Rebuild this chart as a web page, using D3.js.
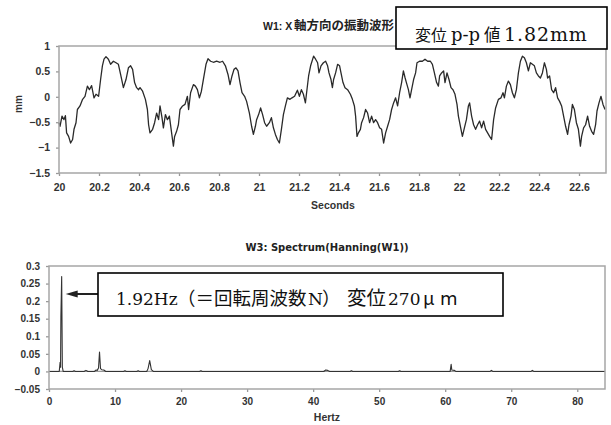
<!DOCTYPE html>
<html>
<head>
<meta charset="utf-8">
<script src="https://cdn.jsdelivr.net/npm/d3@7"></script>
<style>
  body { margin: 0; background: #fff; }
</style>
</head>
<body>
<svg id="chart" width="611" height="425"></svg>
<script>
// W1: X-axis vibration waveform (time in seconds, displacement in mm)
const waveSeconds = [
  20.000, 20.005, 20.015, 20.025, 20.032, 20.038, 20.048, 20.058, 20.068, 20.075,
  20.085, 20.092, 20.105, 20.118, 20.130, 20.142, 20.152, 20.163, 20.175, 20.185,
  20.198, 20.208, 20.217, 20.225, 20.235, 20.247, 20.258, 20.272, 20.285, 20.297,
  20.308, 20.322, 20.335, 20.347, 20.358, 20.368, 20.378, 20.388, 20.398, 20.405,
  20.418, 20.432, 20.442, 20.448, 20.455, 20.468, 20.478, 20.488, 20.498, 20.505,
  20.515, 20.522, 20.532, 20.542, 20.552, 20.562, 20.572, 20.578, 20.588, 20.597,
  20.605, 20.618, 20.630, 20.642, 20.648, 20.658, 20.672, 20.682, 20.692, 20.702,
  20.712, 20.725, 20.735, 20.745, 20.758, 20.772, 20.788, 20.805, 20.818, 20.832,
  20.845, 20.855, 20.865, 20.875, 20.885, 20.895, 20.905, 20.915, 20.928, 20.938,
  20.952, 20.963, 20.972, 20.982, 20.988, 20.998, 21.008, 21.018, 21.028, 21.038,
  21.052, 21.062, 21.072, 21.082, 21.092, 21.102, 21.112, 21.122, 21.132, 21.142,
  21.155, 21.165, 21.178, 21.192, 21.202, 21.212, 21.222, 21.232, 21.238, 21.248,
  21.258, 21.273, 21.283, 21.293, 21.300, 21.310, 21.322, 21.333, 21.343, 21.350,
  21.360, 21.367, 21.373, 21.383, 21.393, 21.403, 21.410, 21.420, 21.430, 21.443,
  21.457, 21.467, 21.477, 21.483, 21.490, 21.497, 21.507, 21.513, 21.523, 21.533,
  21.543, 21.553, 21.563, 21.573, 21.583, 21.593, 21.603, 21.613, 21.623, 21.633,
  21.643, 21.653, 21.663, 21.673, 21.683, 21.693, 21.703, 21.713, 21.722, 21.730,
  21.737, 21.747, 21.755, 21.763, 21.773, 21.783, 21.790, 21.803, 21.817, 21.830,
  21.843, 21.857, 21.867, 21.877, 21.888, 21.897, 21.903, 21.913, 21.923, 21.930,
  21.940, 21.950, 21.960, 21.970, 21.980, 21.990, 21.997, 22.007, 22.017, 22.027,
  22.037, 22.047, 22.053, 22.063, 22.073, 22.083, 22.093, 22.103, 22.113, 22.123,
  22.133, 22.143, 22.153, 22.163, 22.173, 22.183, 22.197, 22.210, 22.220, 22.227,
  22.237, 22.247, 22.257, 22.267, 22.277, 22.287, 22.297, 22.307, 22.317, 22.327,
  22.337, 22.347, 22.357, 22.367, 22.377, 22.387, 22.397, 22.407, 22.417, 22.427,
  22.437, 22.443, 22.453, 22.463, 22.473, 22.483, 22.493, 22.503, 22.513, 22.523,
  22.533, 22.543, 22.550, 22.560, 22.567, 22.577, 22.587, 22.597, 22.607, 22.613,
  22.623, 22.633, 22.643, 22.653, 22.663, 22.673, 22.683, 22.690, 22.700, 22.710,
  22.720, 22.730
];
const waveMm = [
  -0.51, -0.58, -0.38, -0.45, -0.37, -0.71, -0.78, -0.91, -0.84, -0.64,
  -0.51, -0.25, -0.18, -0.05,  0.01,  0.21,  0.14,  0.22, -0.02,  0.05,
   0.01,  0.34,  0.61,  0.74,  0.79,  0.74,  0.64,  0.70,  0.67,  0.64,
   0.44,  0.18,  0.34,  0.57,  0.61,  0.54,  0.28,  0.18,  0.14,  0.18,
   0.11, -0.05, -0.25, -0.55, -0.71, -0.64, -0.51, -0.32, -0.45, -0.18,
  -0.41, -0.61, -0.35, -0.45, -0.38, -0.68, -0.97, -0.78, -0.68, -0.55,
  -0.25, -0.18, -0.15,  0.01, -0.25,  0.08,  0.24,  0.21,  0.14, -0.02,
   0.11,  0.41,  0.64,  0.75,  0.70,  0.68,  0.70,  0.68,  0.70,  0.61,
   0.44,  0.24,  0.41,  0.54,  0.57,  0.51,  0.28,  0.08,  0.01, -0.09,
  -0.32, -0.58, -0.74, -0.58, -0.45, -0.35, -0.22, -0.35, -0.51, -0.58,
  -0.51, -0.41, -0.61, -0.74, -0.84, -0.91, -0.64, -0.35, -0.18, -0.02,
  -0.05, -0.02,  0.01,  0.13,  0.01,  0.14,  0.05, -0.12,  0.08,  0.41,
   0.61,  0.80,  0.74,  0.67,  0.47,  0.61,  0.67,  0.70,  0.61,  0.47,
   0.34,  0.18,  0.34,  0.47,  0.64,  0.61,  0.47,  0.28,  0.18,  0.14,
   0.05, -0.05, -0.18, -0.38, -0.78, -0.71, -0.64, -0.51, -0.41, -0.25,
  -0.32, -0.51, -0.38, -0.51, -0.45, -0.51, -0.61, -0.64, -0.91, -0.71,
  -0.58, -0.45, -0.25, -0.12, -0.02, -0.18,  0.08,  0.28,  0.51,  0.38,
   0.28,  0.14, -0.02,  0.14,  0.34,  0.47,  0.67,  0.70,  0.70,  0.74,
   0.70,  0.70,  0.64,  0.47,  0.28,  0.21,  0.41,  0.47,  0.51,  0.28,
   0.47,  0.34,  0.18,  0.14,  0.05, -0.15, -0.38, -0.58, -0.78, -0.61,
  -0.45, -0.18, -0.12, -0.38, -0.55, -0.64, -0.55, -0.48, -0.61, -0.48,
  -0.64, -0.71, -0.78, -0.84, -0.45, -0.22, -0.05, -0.02,  0.08, -0.02,
   0.21,  0.31,  0.24,  0.08, -0.02,  0.14,  0.47,  0.70,  0.80,  0.77,
   0.67,  0.51,  0.67,  0.64,  0.61,  0.47,  0.41,  0.37,  0.47,  0.67,
   0.54,  0.37,  0.41,  0.14,  0.08,  0.18, -0.02, -0.09, -0.18, -0.38,
  -0.58, -0.74, -0.55, -0.38, -0.15, -0.25, -0.51, -0.64, -0.97, -0.78,
  -0.61, -0.55, -0.38, -0.58, -0.68, -0.74, -0.55, -0.28, -0.12,  0.01,
  -0.15, -0.25
];
const waveXTicks = [20, 20.2, 20.4, 20.6, 20.8, 21, 21.2, 21.4, 21.6, 21.8, 22, 22.2, 22.4, 22.6];
const waveYTicks = [1, 0.5, 0, -0.5, -1, -1.5];

// W3: spectrum of the Hanning-windowed waveform (frequency in Hz, amplitude in mm)
const specHz = [
  0, 1.55, 1.68, 1.75, 1.80, 1.92, 2.02, 2.15, 3.6, 3.8, 4.0,
  5.3, 5.6, 5.9, 6.9, 7.1, 7.3, 7.5, 7.65, 7.8, 8.0, 8.3, 8.6,
  11.3, 11.5, 11.7, 13.3, 13.5, 13.7, 14.8, 15.0, 15.25, 15.5, 15.8,
  22.8, 23.0, 23.2, 41.6, 41.9, 42.2, 42.5, 45.6, 45.8, 46.0, 52.9, 53.1, 53.3,
  60.75, 60.9, 61.0, 61.4, 61.6, 66.8, 67.0, 67.2, 73.0, 73.2, 73.4, 84.2
];
const specAmp = [
  0, 0, 0.026, 0.012, 0.155, 0.27, 0.012, 0, 0, 0.002, 0,
  0, 0.003, 0, 0, 0.004, 0.003, 0.01, 0.055, 0.008, 0.005, 0.004, 0,
  0, 0.002, 0, 0, 0.002, 0, 0, 0.008, 0.031, 0.005, 0,
  0, 0.002, 0, 0, 0.004, 0.003, 0, 0, 0.002, 0, 0, 0.002, 0,
  0, 0.02, 0.004, 0.003, 0, 0, 0.003, 0, 0, 0.003, 0, 0
];
const specXTicks = [0, 10, 20, 30, 40, 50, 60, 70, 80];
const specYTicks = [0.3, 0.25, 0.2, 0.15, 0.1, 0.05, 0, -0.05];

const peakHz = 1.92;

const svg = d3.select("#chart");
const tickFont = "'Liberation Sans', Arial, sans-serif";
const titleFont = "'DejaVu Sans', sans-serif";
const cjkBold = "'Noto Sans CJK JP', sans-serif";
const fmt = d => String(+d.toFixed(2)).replace("-", "\u2212");

function panel(o) {
  const g = svg.append("g");
  const x = d3.scaleLinear().domain(o.xDomain).range([o.left, o.right]);
  const y = d3.scaleLinear().domain(o.yDomain).range([o.bottom, o.top]);

  const xa = g.append("g").attr("transform", `translate(0,${o.bottom})`)
    .call(d3.axisBottom(x).tickValues(o.xTicks).tickSize(3).tickPadding(o.xPad).tickFormat(fmt));
  const ya = g.append("g").attr("transform", `translate(${o.left},0)`)
    .call(d3.axisLeft(y).tickValues(o.yTicks).tickSize(3).tickPadding(6).tickFormat(fmt));
  [xa, ya].forEach(a => {
    a.select(".domain").remove();
    a.selectAll("line").attr("stroke", "#999").attr("stroke-width", 1.3);
    a.selectAll("text").attr("font-family", tickFont).attr("font-weight", "bold")
      .attr("font-size", o.tickSize).attr("fill", "#333");
  });

  if (o.zeroLine) {
    g.append("line").attr("x1", o.left).attr("x2", o.right)
      .attr("y1", y(0)).attr("y2", y(0)).attr("stroke", "#999").attr("stroke-width", 1.2);
  }

  g.append("path")
    .datum(o.xs.map((v, i) => [v, o.ys[i]]))
    .attr("fill", "none").attr("stroke", o.lineColor).attr("stroke-width", o.lineWidth)
    .attr("stroke-linejoin", "round")
    .attr("d", d3.line().x(d => x(d[0])).y(d => y(d[1])));

  g.append("rect").attr("x", o.left).attr("y", o.top)
    .attr("width", o.right - o.left).attr("height", o.bottom - o.top)
    .attr("fill", "none").attr("stroke", "#a6a6a6").attr("stroke-width", 1.5);

  g.append("text").attr("x", o.xLabelX).attr("y", o.xLabelY).attr("text-anchor", "middle")
    .attr("font-family", tickFont).attr("font-weight", "bold").attr("font-size", 10.5)
    .attr("fill", "#333").text(o.xLabel);

  return { x, y, g };
}

const wavePanel = panel({
  xDomain: [20, 22.735], yDomain: [-1.5, 1],
  left: 59, right: 606, top: 46, bottom: 173,
  xTicks: waveXTicks, yTicks: waveYTicks, xPad: 8, tickSize: 10.5,
  xs: waveSeconds, ys: waveMm, lineColor: "#2a2a2a", lineWidth: 1.3,
  xLabel: "Seconds", xLabelX: 333, xLabelY: 209
});

// waveform title: Latin part and Japanese part in their own fonts
const waveTitle = svg.append("text").attr("y", 30)
  .attr("font-weight", "bold").attr("fill", "#222");
waveTitle.append("tspan").attr("x", 263).attr("font-family", tickFont).attr("font-size", 10.5).text("W1: X");
waveTitle.append("tspan").attr("x", 294).attr("font-family", cjkBold).attr("font-size", 12.5).text("軸方向の振動波形");

svg.append("text").attr("transform", "translate(22,104) rotate(-90)")
  .attr("text-anchor", "middle").attr("font-family", tickFont).attr("font-weight", "bold")
  .attr("font-size", 10).attr("fill", "#333").text("mm");

const specPanel = panel({
  xDomain: [0, 84.2], yDomain: [-0.05, 0.3],
  left: 49, right: 605, top: 266, bottom: 389,
  xTicks: specXTicks, yTicks: specYTicks, xPad: 6, tickSize: 10,
  xs: specHz, ys: specAmp, lineColor: "#333", lineWidth: 1.1, zeroLine: true,
  xLabel: "Hertz", xLabelX: 327, xLabelY: 421
});

svg.append("text").attr("x", 327).attr("y", 251).attr("text-anchor", "middle")
  .attr("font-family", titleFont).attr("font-weight", "bold")
  .attr("font-size", 10).attr("fill", "#222").text("W3: Spectrum(Hanning(W1))");

// annotation boxes
const serif = "'DejaVu Serif', 'Liberation Serif', serif";
const cjk = "'Noto Sans CJK JP', sans-serif";

function boxLabel(y, parts) {
  const t = svg.append("text").attr("y", y).attr("fill", "#111");
  parts.forEach(p => {
    const s = t.append("tspan").attr("x", p.x).attr("font-family", p.f)
      .attr("font-size", p.s).attr("fill", "#111").text(p.t);
    if (p.ls) s.attr("letter-spacing", p.ls);
  });
}

svg.append("rect").attr("x", 396).attr("y", 7).attr("width", 211).attr("height", 42)
  .attr("fill", "#fff").attr("stroke", "#000").attr("stroke-width", 1.6);
boxLabel(41, [
  { x: 415, t: "変位", f: cjk, s: 16 },
  { x: 451, t: "p-p", f: serif, s: 18 },
  { x: 484, t: "値", f: cjk, s: 16.5 },
  { x: 504, t: "1.82mm", f: serif, s: 19, ls: 0.9 }
]);

// arrow pointing at the 1.92 Hz peak
const tipX = specPanel.x(peakHz) + 4, arrowY = 294;
svg.append("line").attr("x1", tipX + 10).attr("x2", 98).attr("y1", arrowY).attr("y2", arrowY)
  .attr("stroke", "#222").attr("stroke-width", 2);
svg.append("path")
  .attr("d", `M${tipX},${arrowY} L${tipX + 12},${arrowY - 3.5} L${tipX + 12},${arrowY + 3.5} Z`)
  .attr("fill", "#222");

svg.append("rect").attr("x", 98).attr("y", 273).attr("width", 405).attr("height", 43)
  .attr("fill", "#fff").attr("stroke", "#000").attr("stroke-width", 1.6);
boxLabel(305, [
  { x: 116, t: "1.92Hz", f: serif, s: 17 },
  { x: 177, t: "（＝回転周波数", f: cjk, s: 18.5 },
  { x: 308, t: "N", f: serif, s: 17 },
  { x: 322, t: "）", f: cjk, s: 18.5 },
  { x: 347, t: "変位", f: cjk, s: 19.5 },
  { x: 388, t: "270", f: serif, s: 17 },
  { x: 423, t: "μ", f: cjk, s: 18.5 },
  { x: 440, t: "m", f: "'DejaVu Sans', sans-serif", s: 18 }
]);
</script>
</body>
</html>
